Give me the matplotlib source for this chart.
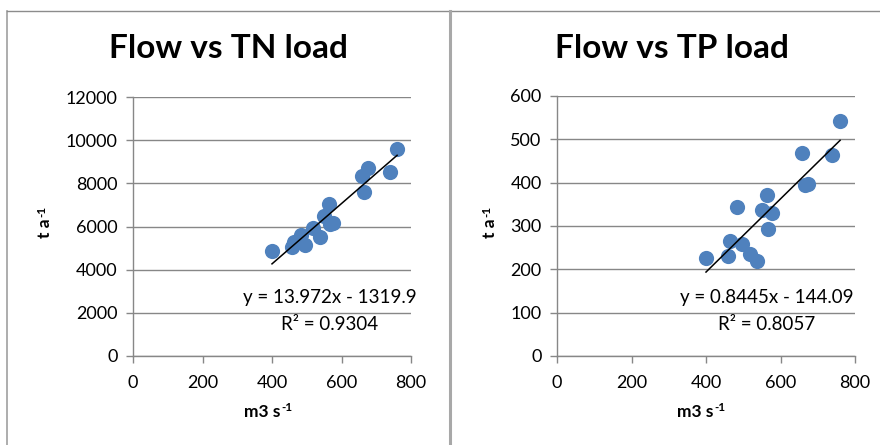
import matplotlib.pyplot as plt
import numpy as np
from matplotlib.lines import Line2D

plt.rcParams['font.family'] = ['Lato', 'DejaVu Sans']

# flow (m3/s) with annual loads
flow = np.array([400, 458, 464, 484, 496, 518, 538, 549, 565, 567, 576, 659, 666, 675, 739, 760])
tn_load = np.array([4870, 5040, 5300, 5600, 5150, 5950, 5500, 6500, 7040, 6100, 6180, 8340, 7610, 8700, 8540, 9580])
tp_load = np.array([226, 231, 266, 343, 258, 235, 220, 337, 372, 293, 331, 469, 395, 398, 464, 543])

tn_fit = (13.972, -1319.9, 0.9304)
tp_fit = (0.8445, -144.09, 0.8057)

BLUE = "#4F81BD"
GREY = "#878787"
W, H = 880, 445

fig = plt.figure(figsize=(8.8, 4.45), dpi=100)

# panel borders
fig.add_artist(Line2D([7/W, 7/W], [0, 1 - 11/H], transform=fig.transFigure, color="#a0a0a0", lw=1.2))
fig.add_artist(Line2D([7/W, 1], [1 - 11/H, 1 - 11/H], transform=fig.transFigure, color="#8c8c8c", lw=1.0))
fig.add_artist(Line2D([450/W, 450/W], [0, 1 - 11/H], transform=fig.transFigure, color="#a8a8a8", lw=2.2))


def px(x, y):
    return x / W, 1 - y / H


def unit_label(x, y, base, rotated=False):
    # bold label plus a small "-1" superscript with a plain hyphen
    if not rotated:
        fig.text(*px(x + 8, y), base, ha="right", va="baseline", fontsize=12.5, fontweight="bold")
        fig.text(*px(x + 9, y - 6), "-1", ha="left", va="baseline", fontsize=8.5, fontweight="bold")
    else:
        fig.text(*px(x, y), base, ha="center", va="top", fontsize=12.5, fontweight="bold", rotation=90)
        fig.text(*px(x + 2, y - 1), "-1", ha="right", va="bottom", fontsize=8.5,
                 fontweight="bold", rotation=90)


def panel(rect, y, fit, ymax, ystep, title, title_x, eq_x, lab_x, ylab_x):
    ax = fig.add_axes(rect)
    ax.scatter(flow, y, s=120, color=BLUE, zorder=3, linewidths=0)
    xs = np.array([flow.min(), flow.max()])
    ax.plot(xs, fit[0] * xs + fit[1], color="black", lw=1.1, zorder=4)
    ax.set_xlim(0, 800)
    ax.set_ylim(0, ymax)
    ax.set_xticks(np.arange(0, 801, 200))
    ax.set_yticks(np.arange(0, ymax + 1, ystep))
    ax.grid(axis="y", color=GREY, lw=1.0)
    ax.set_axisbelow(True)
    for s in ("top", "right"):
        ax.spines[s].set_visible(False)
    for s in ("left", "bottom"):
        ax.spines[s].set_color(GREY)
        ax.spines[s].set_linewidth(1.0)
    ax.tick_params(colors=GREY, labelcolor="black", labelsize=13, length=5, width=1.0)
    ax.tick_params(axis="x", pad=9)
    ax.tick_params(axis="y", pad=6)

    fig.text(*px(title_x, 48), title, ha="center", va="center", fontsize=24, fontweight="bold")
    sign = "-" if fit[1] < 0 else "+"
    fig.text(*px(eq_x, 298), f"y = {fit[0]}x {sign} {abs(fit[1])}",
             ha="center", va="center", fontsize=13.5)
    fig.text(*px(eq_x, 324), f"R² = {fit[2]}", ha="center", va="center", fontsize=13.5)
    unit_label(lab_x, 417, "m3 s")
    unit_label(ylab_x, 218, "t a", rotated=True)
    return ax


panel([133/W, 1 - 356/H, 278/W, 259/H], tn_load, tn_fit, 12000, 2000,
      "Flow vs TN load", 228, 330, 272, 45)
panel([557/W, 1 - 356/H, 298/W, 260/H], tp_load, tp_fit, 600, 100,
      "Flow vs TP load", 672, 767, 705, 490)

plt.savefig("out.png", dpi=100)
